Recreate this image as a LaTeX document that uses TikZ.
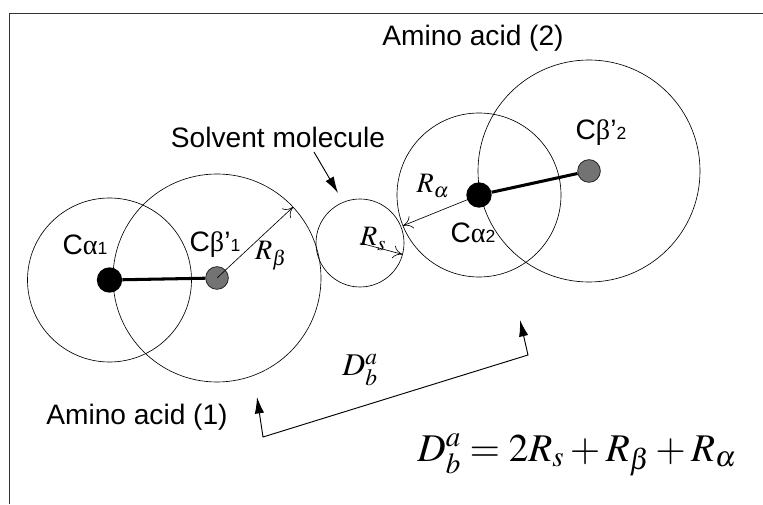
\documentclass[tikz,border=0pt]{standalone}
\usepackage{mathptmx}
\usepackage[no-math]{fontspec}
\setsansfont{Liberation Sans}
\newfontfamily\greekfont{Liberation Serif}
\usetikzlibrary{arrows.meta, calc}

\begin{document}
\begin{tikzpicture}[
    x=0.03cm, y=0.03cm,
    % Atom styles
    atom_alpha/.style={circle, fill=black, inner sep=0pt, minimum size=0.76cm},
    atom_beta/.style={circle, fill=black!55, draw=black!85, line width=0.7pt, inner sep=0pt, minimum size=0.68cm},
    sphere/.style={draw, line width=0.55pt},
    bond/.style={line width=2.6pt},
    label_txt/.style={font=\sffamily\fontsize{24}{26}\selectfont},
    radius_lbl/.style={font=\fontsize{24}{26}\selectfont},
    radius_arrow/.style={-{To[length=8pt,width=11pt]}, line width=0.55pt},
    pointer/.style={-{Latex[length=14pt,width=8pt]}, line width=0.8pt}
    ]

    \useasboundingbox (0,0) rectangle (763,504);

    % Frame
    \draw[line width=0.8pt, black!80] (9,0) -- (9,491) -- (763,491);

    % Amino acid (1)
    \node[atom_alpha] (ca1) at (109.5,224) {};
    \node[atom_beta] (cb1) at (217,226) {};
    \draw[sphere] (ca1) circle (82);
    \draw[sphere] (cb1) circle (104);
    \draw[bond] (ca1) -- (cb1);

    % Solvent molecule
    \coordinate (solv) at (360,261);
    \draw[sphere] (solv) circle (44);

    % Amino acid (2)
    \node[atom_alpha] (ca2) at (479,309) {};
    \node[atom_beta] (cb2) at (589,333) {};
    \draw[sphere] (ca2) circle (82);
    \draw[sphere] (cb2) circle (111);
    \draw[bond] (ca2) -- (cb2);

    % Radii
    \coordinate (rb_end) at ($(cb1)+(43:104)$);
    \coordinate (rs_end) at ($(solv)+(-15:44)$);
    \coordinate (ra_end) at ($(ca2)+(202:82)$);
    \draw[radius_arrow] (cb1.center) -- (rb_end);
    \draw[radius_arrow] (solv) -- (rs_end);
    \draw[radius_arrow] (ca2.center) -- (ra_end);
    \node[radius_lbl] (lbl_rb) at (271,248) {$R_\beta$};
    \node[radius_lbl] (lbl_rs) at (373,265) {$R_s$};
    \node[radius_lbl] (lbl_ra) at (433,318) {$R_\alpha$};

    % Atom labels
    \node[label_txt] (lbl_ca1) at (85,259) {C{\greekfont α}{\fontsize{15}{15}\selectfont 1}};
    \node[label_txt] (lbl_cb1) at (215,259) {C{\greekfont β}'{\fontsize{15}{15}\selectfont 1}};
    \node[label_txt] (lbl_ca2) at (473,271) {C{\greekfont α}{\fontsize{15}{15}\selectfont 2}};
    \node[label_txt] (lbl_cb2) at (601,371) {C{\greekfont β}'{\fontsize{15}{15}\selectfont 2}};

    % Group labels
    \node[label_txt] (lbl_aa2) at (473,466) {Amino acid (2)};
    \node[label_txt] (lbl_aa1) at (137,87) {Amino acid (1)};
    \node[label_txt] (lbl_solv) at (278,367) {Solvent molecule};

    % Pointer to the solvent
    \coordinate (solv_tail) at (314,352);
    \coordinate (solv_tip) at (338,311);
    \draw[pointer] (solv_tail) -- (solv_tip);

    % Distance D_b^a
    \coordinate (d_tip1) at (257,107);
    \coordinate (d_c1) at (263,67);
    \coordinate (d_c2) at (528,149);
    \coordinate (d_tip2) at (520,184);
    \draw[{Latex[length=14pt,width=8pt]}-{Latex[length=14pt,width=8pt]}, line width=0.8pt]
        (d_tip1) -- (d_c1) -- (d_c2) -- (d_tip2);
    \node[font=\fontsize{27}{30}\selectfont] (lbl_d) at (360,134) {$D_b^a$};

    % Formula
    \node[font=\fontsize{33.5}{38}\selectfont] (formula) at (577,49) {$D_b^a = 2R_s + R_\beta + R_\alpha$};

\end{tikzpicture}
\end{document}
